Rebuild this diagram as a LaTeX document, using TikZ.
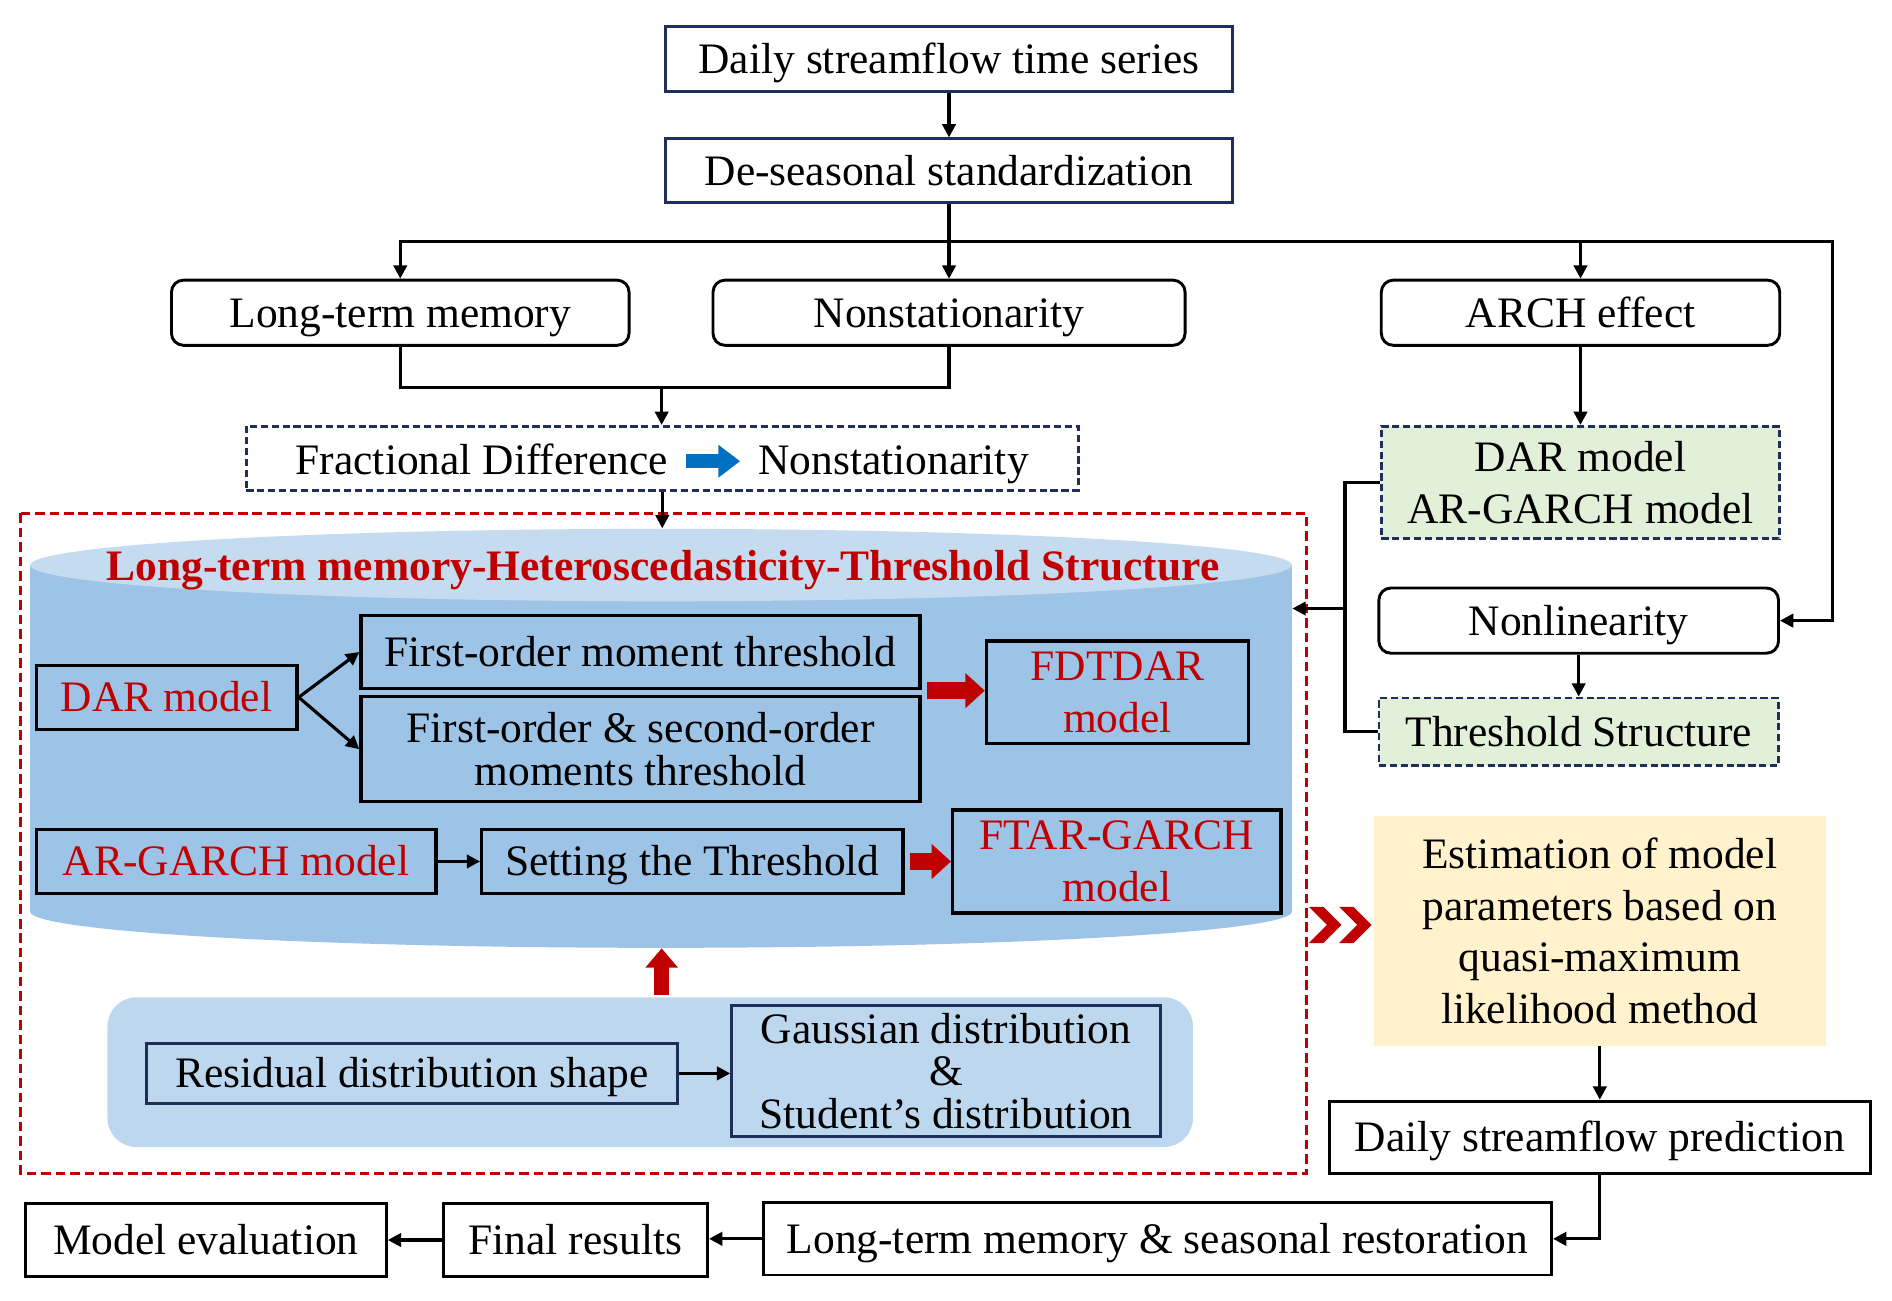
\documentclass[tikz,border=0pt]{standalone}
\usepackage{fontspec}
\setmainfont{Liberation Serif}
\usetikzlibrary{arrows.meta,calc}
\definecolor{navy}{HTML}{1F2F5A}
\definecolor{cred}{HTML}{C00000}
\definecolor{cylbody}{HTML}{9DC3E6}
\definecolor{cyltop}{HTML}{C5DCF0}
\definecolor{lightreg}{HTML}{BDD7EE}
\definecolor{lgreen}{HTML}{E2F0D9}
\definecolor{lyellow}{HTML}{FFF2CC}
\definecolor{cblue}{HTML}{0070C0}
\begin{document}
\begin{tikzpicture}[x=0.5pt,y=-0.5pt,
  font=\fontsize{18}{21.5}\selectfont,
  >={Triangle[length=5.5pt,width=5.5pt]},
  conn/.style={draw=black,line width=1.3pt,->},
  plain/.style={draw=black,line width=1.3pt},
  one/.style={text height=14pt,text depth=2pt},
  nbox/.style={draw=navy,line width=1.2pt,inner sep=0pt,align=center},
  rbox/.style={draw=black,line width=1.2pt,rounded corners=5pt,inner sep=0pt,align=center},
  dbox/.style={draw=navy,line width=1.1pt,dash pattern=on 3pt off 1.5pt,inner sep=0pt,align=center},
  ibox/.style={draw=black,line width=1.4pt,inner sep=0pt,align=center},
  bbox/.style={draw=black,line width=1.2pt,inner sep=0pt,align=center},
  redblock/.style={draw=cred,line width=7pt,-{Triangle[length=8pt,width=14pt]}},
  blueblock/.style={draw=cblue,line width=6pt,-{Triangle[length=9pt,width=13pt]}},
]
\useasboundingbox (0,0) rectangle (1567,1077.5);

% top chain
\node[nbox,one,minimum width=235pt,minimum height=27pt] (ts) at (786,49) {Daily streamflow time series};
\node[nbox,one,minimum width=235pt,minimum height=26.5pt] (ds) at (786,141.5) {De-seasonal standardization};
\node[rbox,one,minimum width=189.5pt,minimum height=27pt] (ltm) at (331.5,259) {Long-term memory};
\node[rbox,one,minimum width=195.5pt,minimum height=27pt] (ns) at (786,259) {Nonstationarity};
\node[rbox,one,minimum width=165pt,minimum height=27pt] (arch) at (1309,259) {ARCH effect};

\node[dbox,minimum width=344.5pt,minimum height=26.5pt] (fd) at (548.5,379.5) {};
\node[inner sep=0pt,one] (fdt1) at (399,381) {Fractional Difference};
\node[inner sep=0pt,one] (fdt2) at (740,381) {Nonstationarity};

% red dashed frame
\draw[draw=cred,line width=1.3pt,dash pattern=on 4pt off 2pt] (17,425) rectangle (1082,972);

% cylinder
\node[minimum width=522.5pt,minimum height=173.5pt,inner sep=0pt] (cyl) at (547.5,611.5) {};
\fill[cylbody] (25,468) -- (25,755) arc[start angle=180,end angle=360,x radius=261.25pt,y radius=15pt] -- (1070,468) -- cycle;
\fill[cyltop] (547.5,468) ellipse[x radius=261.25pt,y radius=15pt];
\node[one,text=cred,font=\fontsize{18}{21.5}\selectfont\bfseries] (title) at (549,469) {Long-term memory-Heteroscedasticity-Threshold Structure};

\node[ibox,one,minimum width=108pt,minimum height=26.5pt,text=cred] (dar) at (138,577.5) {DAR model};
\node[ibox,one,minimum width=231.5pt,minimum height=30pt] (fom) at (530.5,540) {First-order moment threshold};
\node[ibox,minimum width=231.5pt,minimum height=43.5pt,font=\fontsize{18}{17.5}\selectfont] (fsm) at (530.5,620.5) {First-order \& second-order\\moments threshold};
\node[ibox,minimum width=108.5pt,minimum height=42.5pt,text=cred] (fdtdar) at (925.5,573.5) {FDTDAR\\model};
\node[ibox,one,minimum width=165.5pt,minimum height=26.5pt,text=cred] (arg) at (195.5,713.5) {AR-GARCH model};
\node[ibox,one,minimum width=174.5pt,minimum height=26.5pt] (st) at (573.5,713.5) {Setting the Threshold};
\node[ibox,minimum width=136pt,minimum height=42.5pt,text=cred] (ftar) at (925,713.5) {FTAR-GARCH\\model};

\draw[conn] (dar.east) -- (fom.west);
\draw[conn] (dar.east) -- (fsm.west);
\draw[conn] (arg.east) -- (st.west);
\coordinate (ra1) at (768,572);
\draw[redblock] (ra1) -- (fdtdar.west |- ra1);
\draw[redblock] (st.east) ++(2pt,0) -- (ftar.west);

% residual region
\node[fill=lightreg,rounded corners=12pt,minimum width=449.5pt,minimum height=62pt,inner sep=0pt] (resreg) at (538.5,888) {};
\node[nbox,one,minimum width=220pt,minimum height=25pt] (rds) at (341,889) {Residual distribution shape};
\node[nbox,minimum width=177.5pt,minimum height=54.5pt,font=\fontsize{18}{17.5}\selectfont] (gauss) at (783.5,887) {Gaussian distribution\\\&\\Student’s distribution};
\draw[conn] (rds.east) -- (gauss.west |- rds.east);
\coordinate (ua) at (548,824);
\draw[redblock,line width=6pt,-{Triangle[length=8pt,width=13pt]}] (ua) -- (ua |- cyl.south);

% right column
\node[dbox,fill=lgreen,minimum width=165pt,minimum height=46.5pt] (dargarch) at (1309,399.5) {DAR model\\AR-GARCH model};
\node[rbox,one,minimum width=165.5pt,minimum height=27pt] (nonlin) at (1307.5,514) {Nonlinearity};
\node[dbox,one,fill=lgreen,minimum width=165.5pt,minimum height=28pt] (thr) at (1307.5,606) {Threshold Structure};
\node[fill=lyellow,minimum width=187pt,minimum height=95pt,inner sep=0pt,align=center] (est) at (1325,771) {Estimation of model\\parameters based on\\quasi-maximum\\likelihood method};
\node[bbox,one,minimum width=224pt,minimum height=30pt] (dsp) at (1325,942) {Daily streamflow prediction};
\node[bbox,one,minimum width=326.5pt,minimum height=30pt] (ltmr) at (958.5,1026) {Long-term memory \& seasonal restoration};
\node[bbox,one,minimum width=109.5pt,minimum height=30pt] (fr) at (476.5,1027) {Final results};
\node[bbox,one,minimum width=149.5pt,minimum height=30pt] (me) at (170.5,1027) {Model evaluation};

% connectors
\draw[conn] (ts.south) -- (ds.north);
\coordinate (j1) at (786,200);
\coordinate (rt) at (1518,200);
\draw[plain] (ds.south) -- (j1);
\draw[conn] (j1) -| (ltm.north);
\draw[conn] (j1) -- (ns.north);
\draw[conn] (j1) -| (arch.north);
\draw[conn] (j1) -- (rt) |- (nonlin.east);
\coordinate (j2) at (548,321);
\draw[plain] (ltm.south) |- (j2) -| (ns.south);
\draw[conn] (j2) -- (j2 |- fd.north);
\draw[conn] (fd.south) -- (fd.south |- cyl.north);
\draw[blueblock] (568,382) -- (613,382);
\draw[conn] (arch.south) -- (arch.south |- dargarch.north);
\draw[conn] (nonlin.south) -- (nonlin.south |- thr.north);
\coordinate (br) at (1114,504);
\draw[plain] (dargarch.west) -| (br) |- (thr.west);
\draw[conn] (br) -- (br -| cyl.east);
\draw[conn] (est.south) -- (est.south |- dsp.north);
\draw[conn] (dsp.south) |- (ltmr.east);
\draw[conn] (ltmr.west) -- (fr.east |- ltmr.west);
\draw[conn] (fr.west) -- (me.east);

% double chevron
\foreach \cx in {1084,1109}{
  \fill[cred] (\cx,751) -- (\cx+12,751) -- (\cx+27,766) -- (\cx+12,781) -- (\cx,781) -- (\cx+15,766) -- cycle;
}
\end{tikzpicture}
\end{document}
